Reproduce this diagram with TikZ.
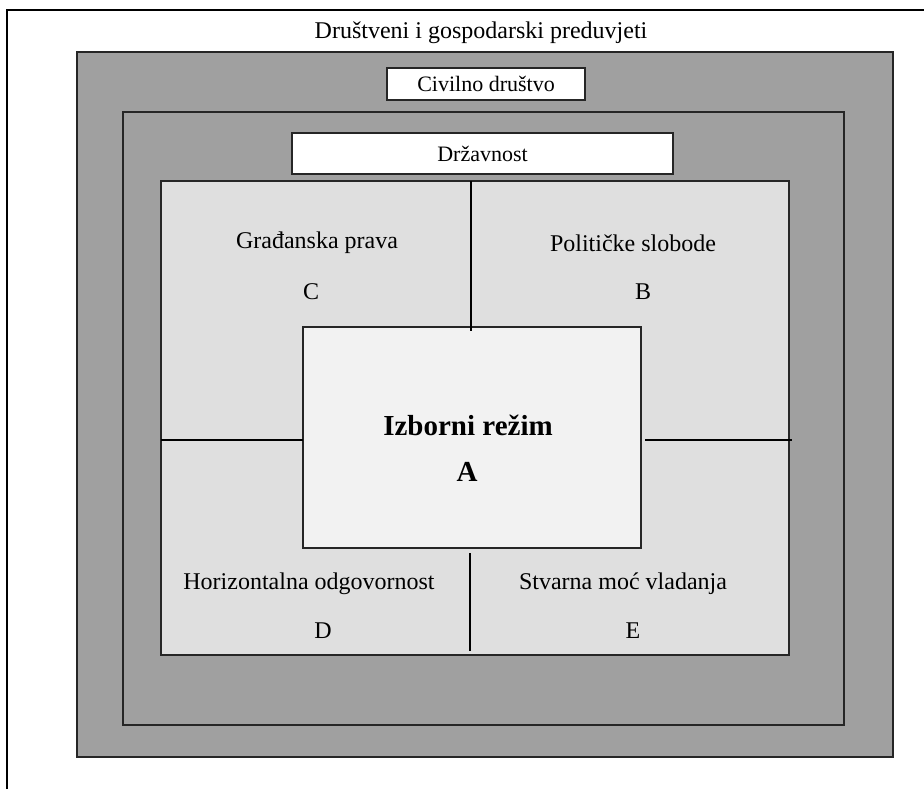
\documentclass[tikz,border=0pt]{standalone}
\usepackage{fontspec}
\setmainfont{Liberation Serif}
\usetikzlibrary{positioning}

\definecolor{outergray}{HTML}{A0A0A0}
\definecolor{innergray}{HTML}{DFDFDF}
\definecolor{coregray}{HTML}{F2F2F2}

\begin{document}
\begin{tikzpicture}[
            x = 0.5pt, y = -0.5pt, % one unit per pixel, y downwards
            line width = 0.8pt, % line style
            font = \fontsize{12}{14}\selectfont
        ]

        \tikzstyle{every node}=[
            inner sep = 0pt,
            outer sep = 0pt
        ]
        \tikzstyle{panel}=[
            draw = black!85,
            rectangle,
            anchor = north west
        ]
        \tikzstyle{tag}=[
            panel,
            fill = white,
            font = \fontsize{11}{13}\selectfont
        ]
        \tikzstyle{label}=[
            text = black
        ]

        \useasboundingbox (0,0) rectangle (924,789);

        % frame, cut at the right and at the bottom
        \coordinate (f0) at (7,789);
        \coordinate (f1) at (7,10);
        \coordinate (f2) at (924,10);
        \draw (f0) -- (f1) -- (f2);
        \node[label] (pre) at (481,33) {Društveni i gospodarski preduvjeti};

        % nested boxes
        \node[panel, fill = outergray, minimum width = 408pt, minimum height = 352.5pt] (soc) at (77,52) {};
        \node[tag, minimum width = 99pt, minimum height = 16pt, anchor = center] (civ) at (486,84) {Civilno društvo};
        \node[panel, fill = outergray, minimum width = 360.5pt, minimum height = 306.5pt] (ctr) at (123,112) {};
        \node[tag, minimum width = 190.5pt, minimum height = 20.5pt, anchor = center] (drz) at (482.5,153.5) {Državnost};
        \node[panel, fill = innergray, minimum width = 314pt, minimum height = 237pt] (reg) at (161,181) {};
        \node[panel, fill = coregray, minimum width = 169pt, minimum height = 110.5pt] (izb) at (303,327) {};

        % dividing lines
        \coordinate (t0) at (471,181);
        \coordinate (t1) at (471,331);
        \coordinate (l0) at (161,440);
        \coordinate (l1) at (303,440);
        \coordinate (r0) at (645,440);
        \coordinate (r1) at (792,440);
        \coordinate (b0) at (470,553);
        \coordinate (b1) at (470,651);
        \draw (t0) -- (t1);
        \draw (l0) -- (l1);
        \draw (r0) -- (r1);
        \draw (b0) -- (b1);

        % texts of the regime parts
        \node[label] (gp) at (317,243) {Građanska prava};
        \node[label] (gpc) at (311,292) {C};
        \node[label] (ps) at (633,243) {Političke slobode};
        \node[label] (psb) at (643,292) {B};
        \node[label, font = \fontsize{14.5}{16}\selectfont\bfseries] (ir) at (468,425) {Izborni režim};
        \node[label, font = \fontsize{14.5}{16}\selectfont\bfseries] (ira) at (467,472) {A};
        \node[label] (ho) at (309,584) {Horizontalna odgovornost};
        \node[label] (hod) at (323,631) {D};
        \node[label] (sm) at (623,584) {Stvarna moć vladanja};
        \node[label] (sme) at (633,631) {E};

    \end{tikzpicture}
\end{document}
